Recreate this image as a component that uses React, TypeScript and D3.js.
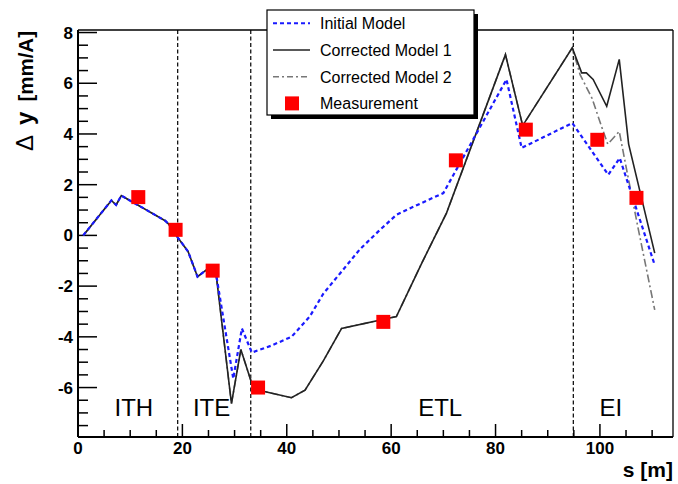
import React from "react";
import * as d3 from "d3";

const initialS = [1.0, 6.4, 7.3, 8.3, 16.7, 17.4, 19.0, 21.1, 22.9, 24.6, 26.2, 29.75, 31.4, 33.3, 37.0, 40.9, 44.4, 47.0, 50.2, 54.0, 57.5, 61.0, 65.0, 70.0, 82.1, 85.0, 94.7, 101.6, 103.8, 110.5];
const initialY = [0.0, 1.38, 1.2, 1.57, 0.58, 0.44, -0.05, -0.64, -1.63, -1.36, -1.2, -5.65, -3.67, -4.62, -4.35, -4.0, -3.2, -2.3, -1.5, -0.55, 0.15, 0.81, 1.2, 1.67, 6.15, 3.45, 4.43, 2.39, 3.05, -1.17];

const model1S = [1.0, 6.4, 7.3, 8.3, 16.7, 17.4, 19.0, 21.1, 22.9, 24.6, 26.3, 29.4, 31.2, 33.3, 35.5, 40.9, 43.5, 47.0, 50.5, 61.0, 65.8, 70.6, 81.9, 85.2, 94.7, 96.5, 97.4, 98.7, 101.3, 103.7, 105.5, 110.5];
const model1Y = [0.0, 1.38, 1.2, 1.57, 0.58, 0.44, -0.05, -0.64, -1.63, -1.36, -1.25, -6.63, -4.5, -5.84, -6.15, -6.4, -6.1, -4.95, -3.67, -3.2, -1.12, 0.88, 7.13, 4.33, 7.4, 6.41, 6.41, 6.15, 5.09, 6.94, 3.6, -0.7];

const model2S = [1.0, 6.4, 7.3, 8.3, 16.7, 17.4, 19.0, 21.1, 22.9, 24.6, 26.3, 29.4, 31.2, 33.3, 35.5, 40.9, 43.5, 47.0, 50.5, 61.0, 65.8, 70.6, 81.9, 85.2, 94.7, 96.2, 98.5, 100.3, 101.5, 103.7, 105.2, 107.3, 110.5];
const model2Y = [0.0, 1.38, 1.2, 1.57, 0.58, 0.44, -0.05, -0.64, -1.63, -1.36, -1.25, -6.63, -4.5, -5.84, -6.15, -6.4, -6.1, -4.95, -3.67, -3.2, -1.12, 0.88, 7.13, 4.33, 7.4, 6.34, 5.4, 4.3, 3.6, 4.1, 2.5, 0.3, -2.94];

const measS = [11.55, 18.7, 25.8, 34.5, 58.5, 72.4, 85.8, 99.5, 107.0];
const measY = [1.51, 0.22, -1.39, -6.0, -3.41, 2.96, 4.17, 3.77, 1.48];

const xMajorTicks = [0, 20, 40, 60, 80, 100];
const yMajorTicks = [-6, -4, -2, 0, 2, 4, 6, 8];
const boundaries = [19.1, 33.1, 94.9];
const regionNames = ["ITH", "ITE", "ETL", "EI"];
const regionCenters = [10.7, 25.6, 69.4, 102.1];
const legendLabels = ["Initial Model", "Corrected Model 1", "Corrected Model 2", "Measurement"];

const L = 78, R = 673, T = 30, B = 437;

export default function App() {
  const x = d3.scaleLinear().domain([0, 114]).range([L, R]);
  const y = d3.scaleLinear().domain([-7.95, 8.1]).range([B, T]);
  const line = d3.line<[number, number]>().x(d => x(d[0])).y(d => y(d[1]));
  const zip = (a: number[], b: number[]) => a.map((v, i) => [v, b[i]] as [number, number]);

  const xMinor = d3.range(0, 114, 5).filter(v => v % 20 !== 0);
  const yMinor = d3.range(-7.5, 8.1, 0.5).filter(v => Math.abs(v % 2) > 0.01);

  const font = "'Liberation Sans', Arial, Helvetica, sans-serif";

  return (
    <svg width={678} height={484} style={{ position: "absolute", left: 0, top: 0, background: "#fff" }} fontFamily={font}>
      <rect x={0} y={0} width={678} height={484} fill="#fff" />
      {/* frame */}
      <line x1={L} y1={T} x2={R} y2={T} stroke="#000" strokeWidth={1.3} />
      <line x1={R} y1={T} x2={R} y2={B} stroke="#000" strokeWidth={1.3} />
      <line x1={L} y1={T} x2={L} y2={B} stroke="#000" strokeWidth={2} />
      <line x1={L} y1={B} x2={R} y2={B} stroke="#000" strokeWidth={2} />

      {/* x ticks */}
      {xMajorTicks.map(v => (
        <g key={"xt" + v}>
          <line x1={x(v)} x2={x(v)} y1={B} y2={B - 13} stroke="#000" strokeWidth={1.5} />
          <text x={x(v)} y={454} textAnchor="middle" fontSize={17} fontWeight="bold">{v}</text>
        </g>
      ))}
      {xMinor.map(v => (
        <line key={"xm" + v} x1={x(v)} x2={x(v)} y1={B} y2={B - 7} stroke="#000" strokeWidth={1.5} />
      ))}
      {/* y ticks */}
      {yMajorTicks.map(v => (
        <g key={"yt" + v}>
          <line x1={L} x2={L + 19} y1={y(v)} y2={y(v)} stroke="#000" strokeWidth={1.5} />
          <text x={73} y={y(v) + 6} textAnchor="end" fontSize={17} fontWeight="bold">{v}</text>
        </g>
      ))}
      {yMinor.map(v => (
        <line key={"ym" + v} x1={L} x2={L + 10} y1={y(v)} y2={y(v)} stroke="#000" strokeWidth={1.5} />
      ))}

      {/* axis titles */}
      <g transform="translate(33,0) rotate(-90)">
        <text x={-151} y={0} fontSize={24}>Δ</text>
        <text x={-125} y={0} fontSize={24} fontWeight="bold">y</text>
        <text x={-31} y={0} textAnchor="end" fontSize={20.5} fontWeight="bold">[mm/A]</text>
      </g>
      <text x={673} y={477} textAnchor="end" fontSize={21} fontWeight="bold">s [m]</text>

      {/* boundaries */}
      {boundaries.map(v => (
        <line key={"b" + v} x1={x(v)} x2={x(v)} y1={T} y2={B} stroke="#000" strokeWidth={1.2} strokeDasharray="4 2.5" />
      ))}

      {/* region labels */}
      {regionNames.map((n, i) => (
        <text key={n} x={x(regionCenters[i])} y={415.5} textAnchor="middle" fontSize={24}>{n}</text>
      ))}

      {/* curves */}
      <path d={line(zip(model2S, model2Y)) || ""} fill="none" stroke="#777" strokeWidth={1.6} strokeDasharray="8 3 2 3" />
      <path d={line(zip(model1S, model1Y)) || ""} fill="none" stroke="#222" strokeWidth={1.6} />
      <path d={line(zip(initialS, initialY)) || ""} fill="none" stroke="#1a1aff" strokeWidth={2.2} strokeDasharray="4 3" />

      {/* measurements */}
      {measS.map((s, i) => (
        <rect key={"m" + i} x={x(s) - 7} y={y(measY[i]) - 7} width={14} height={14} fill="#ff0000" />
      ))}

      {/* legend */}
      <rect x={271} y={14} width={207} height={105} fill="#000" />
      <rect x={267} y={10} width={207} height={105} fill="#fff" stroke="#000" strokeWidth={1.2} />
      {legendLabels.map((lab, i) => {
        const cy = 23.3 + i * 26.7;
        return (
          <g key={lab}>
            {i === 0 && <line x1={273} x2={310} y1={cy} y2={cy} stroke="#1a1aff" strokeWidth={2} strokeDasharray="4 3" />}
            {i === 1 && <line x1={273} x2={310} y1={cy} y2={cy} stroke="#222" strokeWidth={1.6} />}
            {i === 2 && <line x1={273} x2={310} y1={cy} y2={cy} stroke="#777" strokeWidth={1.5} strokeDasharray="6 3 2 3" />}
            {i === 3 && <rect x={285} y={cy - 7} width={14} height={14} fill="#ff0000" />}
            <text x={320} y={cy + 6} fontSize={16}>{lab}</text>
          </g>
        );
      })}
    </svg>
  );
}
